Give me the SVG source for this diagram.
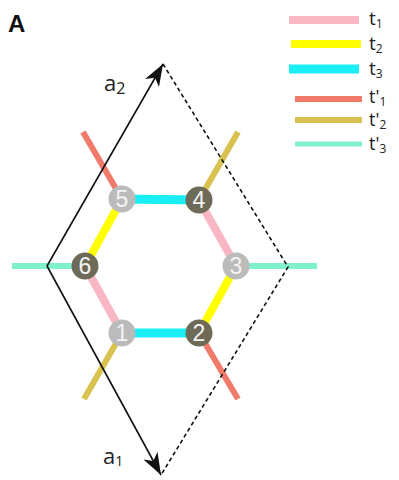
<svg xmlns="http://www.w3.org/2000/svg" width="399" height="480" viewBox="0 0 399 480">
<style>
  .t1{stroke:#F9B7C3;stroke-width:8}
  .t2{stroke:#FFFF00;stroke-width:8}
  .t3{stroke:#19EEF5;stroke-width:9}
  .p1{stroke:#F07B6B;stroke-width:6}
  .p2{stroke:#D9C24F;stroke-width:6}
  .p3{stroke:#7FF2CC;stroke-width:6}
  .light{fill:#BBBBBB}
  .dark{fill:#6D6B58}
  .num{font-family:"Liberation Sans",Arial,sans-serif;font-size:23px;fill:#f4f4f4;text-anchor:middle}
  .lab{font-family:"Open Sans","Liberation Sans",sans-serif;fill:#222222}
  .vec{stroke:#111111;stroke-width:1.6;fill:none}
  .dash{stroke:#111111;stroke-width:1.6;fill:none;stroke-dasharray:4 3}
</style>
<defs>
  <marker id="arrow" viewBox="0 0 22 16" refX="22" refY="8" markerWidth="22" markerHeight="16" markerUnits="userSpaceOnUse" orient="auto">
    <path d="M0,0 L22,8 L0,16 L6,8 z" fill="#111111"/>
  </marker>
</defs>
<rect width="399" height="480" fill="#ffffff"/>
<text x="8" y="32" font-family="Liberation Sans,Arial,sans-serif" font-weight="bold" font-size="24" fill="#111111">A</text>

<g id="legend">
  <line class="t1" x1="289" y1="20" x2="359" y2="20"/>
  <line class="t2" x1="291" y1="44" x2="361" y2="44"/>
  <line class="t3" x1="289" y1="69" x2="359" y2="69"/>
  <line class="p1" x1="295" y1="99" x2="362" y2="99"/>
  <line class="p2" x1="295" y1="120" x2="362" y2="120"/>
  <line class="p3" x1="295" y1="144" x2="362" y2="144" style="stroke-width:5"/>
  <text class="lab" x="369" y="25" font-size="19">t<tspan font-size="12" dy="3">1</tspan></text>
  <text class="lab" x="369" y="50" font-size="19">t<tspan font-size="12" dy="3">2</tspan></text>
  <text class="lab" x="369" y="75" font-size="19">t<tspan font-size="12" dy="3">3</tspan></text>
  <text class="lab" x="369" y="103" font-size="18">t'<tspan font-size="12" dy="3">1</tspan></text>
  <text class="lab" x="369" y="126" font-size="18">t'<tspan font-size="12" dy="3">2</tspan></text>
  <text class="lab" x="369" y="150" font-size="18">t'<tspan font-size="12" dy="3">3</tspan></text>
</g>

<g id="connectors">
  <line class="p3" x1="12" y1="266" x2="85" y2="266"/>
  <line class="p3" x1="236" y1="266" x2="317" y2="266"/>
  <line class="p1" x1="83" y1="132" x2="122" y2="199"/>
  <line class="p2" x1="238" y1="132" x2="199" y2="200"/>
  <line class="p2" x1="84" y1="399" x2="122" y2="333"/>
  <line class="p1" x1="238" y1="399" x2="199" y2="333"/>
  <line class="t3" x1="122" y1="199" x2="199" y2="200"/>
  <line class="t3" x1="122" y1="333" x2="199" y2="333"/>
  <line class="t2" x1="122" y1="199" x2="85" y2="266"/>
  <line class="t2" x1="236" y1="266" x2="199" y2="333"/>
  <line class="t1" x1="199" y1="200" x2="236" y2="266"/>
  <line class="t1" x1="85" y1="266" x2="122" y2="333"/>
  <line class="vec" x1="47" y1="266" x2="163" y2="64" marker-end="url(#arrow)"/>
  <line class="vec" x1="47" y1="266" x2="161" y2="475" marker-end="url(#arrow)"/>
  <polyline class="dash" points="163,64 288,267 161,475"/>
</g>
<g id="label-a2"><text class="lab" x="104" y="91" font-size="22">a<tspan font-size="16" dy="3">2</tspan></text></g>
<g id="label-a1"><text class="lab" x="103" y="464" font-size="22">a<tspan font-size="14" dy="2">1</tspan></text></g>

<g id="node5"><circle class="light" cx="122" cy="199" r="13.5"/><text class="num" x="122" y="207">5</text></g>
<g id="node4"><circle class="dark" cx="199" cy="200" r="13.5"/><text class="num" x="199" y="208">4</text></g>
<g id="node3"><circle class="light" cx="236" cy="266" r="13.5"/><text class="num" x="236" y="274">3</text></g>
<g id="node2"><circle class="dark" cx="199" cy="333" r="13.5"/><text class="num" x="199" y="341">2</text></g>
<g id="node1"><circle class="light" cx="122" cy="333" r="13.5"/><text class="num" x="122" y="341">1</text></g>
<g id="node6"><circle class="dark" cx="85" cy="266" r="13.5"/><text class="num" x="85" y="274">6</text></g>
</svg>
